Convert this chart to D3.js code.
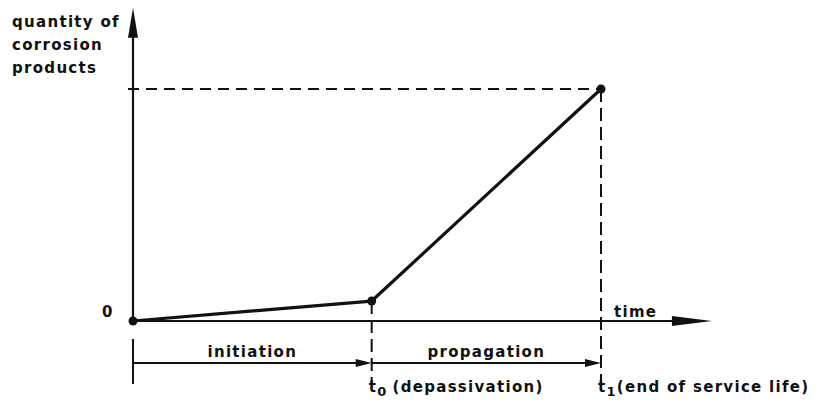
<!DOCTYPE html>
<html><head><meta charset="utf-8">
<script src="https://cdn.jsdelivr.net/npm/d3@7"></script>
<style>
body{margin:0;background:#fff;}
text{font-family:"DejaVu Sans",sans-serif;font-weight:bold;fill:#111;letter-spacing:1.3px;}
</style></head>
<body>
<svg id="c" width="821" height="406"></svg>
<script>
// Data (relative units: time normalised to t1 = 1, quantity normalised to value at t1 = 1)
const pointTimes = [0, 0.51, 1];
const pointQuantities = [0, 0.086, 1];
const phaseNames = ["initiation", "propagation"];
const timeLabels = ["t0", "t1"];
const timeNotes = ["(depassivation)", "(end of service life)"];
const yLabelLines = ["quantity of", "corrosion", "products"];

const svg = d3.select("#c");
const x = d3.scaleLinear().domain([0, 1]).range([133, 601]);
const y = d3.scaleLinear().domain([0, 1]).range([321, 89]);
const xMax = 1.237, yMax = 1.35;
const ink = "#111";

// Axes
svg.append("line").attr("x1", x(0)).attr("y1", y(0)).attr("x2", x(xMax) - 30).attr("y2", y(0))
  .attr("stroke", ink).attr("stroke-width", 2);
svg.append("path").attr("d", `M${x(xMax)},${y(0)} L${x(xMax)-40},${y(0)-5} L${x(xMax)-40},${y(0)+5} Z`).attr("fill", ink);
svg.append("line").attr("x1", x(0)).attr("y1", y(0)).attr("x2", x(0)).attr("y2", y(yMax) + 20)
  .attr("stroke", ink).attr("stroke-width", 2.2);
svg.append("path").attr("d", `M${x(0)},${y(yMax)} L${x(0)-5},${y(yMax)+30} L${x(0)+5},${y(yMax)+30} Z`).attr("fill", ink);

// Dashed guides
svg.append("line").attr("x1", x(0) - 5).attr("y1", y(1)).attr("x2", x(1)).attr("y2", y(1))
  .attr("stroke", ink).attr("stroke-width", 2).attr("stroke-dasharray", "11,7");
[1, 2].forEach(i => {
  svg.append("line").attr("x1", x(pointTimes[i])).attr("y1", y(pointQuantities[i]))
    .attr("x2", x(pointTimes[i])).attr("y2", 384)
    .attr("stroke", ink).attr("stroke-width", 2).attr("stroke-dasharray", "13,6");
});
svg.append("line").attr("x1", x(0)).attr("y1", 339).attr("x2", x(0)).attr("y2", 384)
  .attr("stroke", ink).attr("stroke-width", 2);

// Data line
const line = d3.line().x((d, i) => x(pointTimes[i])).y((d, i) => y(pointQuantities[i]));
svg.append("path").datum(pointTimes).attr("d", line).attr("fill", "none")
  .attr("stroke", ink).attr("stroke-width", 3.2).attr("stroke-linejoin", "round");
svg.selectAll("circle.pt").data(pointTimes).join("circle")
  .attr("cx", (d, i) => x(pointTimes[i])).attr("cy", (d, i) => y(pointQuantities[i]))
  .attr("r", 4.5).attr("fill", ink);

// Phase arrows
const phaseY = 363;
phaseNames.forEach((name, i) => {
  const x0 = x(pointTimes[i]), x1 = x(pointTimes[i + 1]);
  svg.append("line").attr("x1", x0).attr("y1", phaseY).attr("x2", x1 - 14).attr("y2", phaseY)
    .attr("stroke", ink).attr("stroke-width", 1.8);
  svg.append("path").attr("d", `M${x1},${phaseY} L${x1-16},${phaseY-4} L${x1-16},${phaseY+4} Z`).attr("fill", ink);
  svg.append("text").attr("x", (x0 + x1) / 2).attr("y", 357).attr("text-anchor", "middle")
    .attr("font-size", 15).text(name);
});

// Time labels
[1, 2].forEach((k, j) => {
  const t = svg.append("text").attr("x", x(pointTimes[k]) - 3).attr("y", 392).attr("font-size", 15);
  t.append("tspan").text(timeLabels[j][0]);
  t.append("tspan").attr("dy", 4).attr("font-size", 13).text(timeLabels[j].slice(1));
  t.append("tspan").attr("dy", -4).attr("dx", j === 0 ? 5 : 0).text(timeNotes[j]);
});

svg.append("text").attr("x", 614).attr("y", 317).attr("font-size", 15).text("time");
svg.append("text").attr("x", 102).attr("y", 317).attr("font-size", 15).text("0");

svg.selectAll("text.yl").data(yLabelLines).join("text")
  .attr("x", 12).attr("y", (d, i) => 27 + i * 23).attr("font-size", 15).text(d => d);
</script>
</body></html>
